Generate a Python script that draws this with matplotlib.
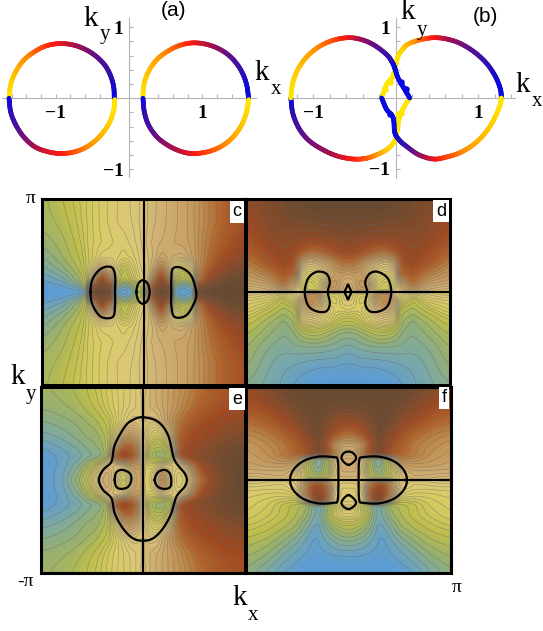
import numpy as np
import matplotlib
matplotlib.use('Agg')
import matplotlib.pyplot as plt
from matplotlib.collections import LineCollection
from matplotlib.colors import LinearSegmentedColormap
from matplotlib.ticker import MultipleLocator

W, H = 543, 631

#   Panel (a): x, y, phase for the four arcs
a_left_up_x = [-1.635, -1.61, -1.54, -1.43, -1.28, -1.12, -0.94, -0.76, -0.60, -0.46, -0.34, -0.26, -0.21, -0.20]
a_left_up_y = [0, .20, .38, .54, .66, .74, .77, .75, .69, .60, .48, .34, .17, 0]
a_left_up_p = [0, .08, .17, .27, .37, .45, .53, .62, .70, .77, .84, .90, .96, 1]
a_left_lo_x = [-1.635, -1.61, -1.54, -1.43, -1.29, -1.12, -.92, -.72, -.55, -.40, -.28, -.21, -.195]
a_left_lo_y = [0, -.2, -.38, -.55, -.68, -.75, -.78, -.75, -.67, -.54, -.37, -.18, -.02]
a_left_lo_p = [1, .93, .85, .75, .65, .57, .5, .4, .3, .2, .11, .03, 0]
a_right_up_x = [.188, .205, .27, .385, .54, .71, .89, 1.09, 1.27, 1.415, 1.53, 1.60, 1.63]
a_right_up_y = [0, .2, .385, .55, .67, .75, .78, .75, .67, .55, .385, .2, 0]
a_right_up_p = [0, .07, .15, .24, .33, .42, .52, .62, .72, .82, .9, .97, 1]
a_right_lo_x = [.19, .21, .27, .385, .54, .71, .88, 1.09, 1.27, 1.415, 1.53, 1.60, 1.63]
a_right_lo_y = [0, -.2, -.385, -.55, -.67, -.75, -.78, -.75, -.67, -.55, -.385, -.2, -.02]
a_right_lo_p = [1, .93, .85, .76, .67, .6, .52, .42, .33, .24, .15, .06, 0]

#   Panel (b)
b_left_up_x = [-1.27, -1.245, -1.174, -1.06, -.91, -.736, -.55, -.38, -.24, -.1, -.04, -.01, .03, .11, .17]
b_left_up_y = [0, .22, .425, .60, .736, .82, .85, .81, .73, .6, .5, .42, .28, .12, 0]
b_left_up_p = [0, .06, .13, .22, .32, .42, .55, .68, .78, .88, .95, 1, 1, 1, 1]
b_left_lo_x = [-1.27, -1.245, -1.17, -1.05, -.88, -.7, -.51, -.36, -.23, -.1, -.01, .02, .04, .09, .17]
b_left_lo_y = [0, -.22, -.43, -.6, -.73, -.82, -.86, -.85, -.8, -.72, -.6, -.45, -.3, -.15, 0]
b_left_lo_p = [1, .92, .84, .76, .68, .6, .5, .4, .28, .12, .02, 0, 0, 0, 0]
b_right_up_x = [-.17, -.11, -.04, -.01, .03, .1, .17, .3, .46, .62, .78, .95, 1.10, 1.21, 1.27, 1.28]
b_right_up_y = [0, .19, .29, .4, .59, .71, .77, .82, .85, .83, .77, .65, .49, .3, .12, 0]
b_right_up_p = [0, 0, 0, 0, .02, .12, .2, .35, .5, .62, .72, .82, .9, .97, 1, 1]
b_right_lo_x = [-.17, -.11, -.03, -.01, .05, .13, .28, .46, .62, .78, .95, 1.10, 1.2, 1.265, 1.28]
b_right_lo_y = [0, -.16, -.28, -.49, -.6, -.68, -.8, -.86, -.83, -.77, -.65, -.47, -.28, -.1, 0]
b_right_lo_p = [1, 1, 1, 1, .95, .88, .7, .55, .43, .34, .22, .15, .08, .02, 0]
b_blue_x = [.07, .13, -.07]
b_blue_y = [.23, .12, -.23]
b_gold_x = [-.07, -.13, .03, .07]
b_gold_y = [.23, .12, -.23, -.21]

tick_major = [-1, 1]
tick_labels = ['\u22121', '1']

#   Phase-like field of panel c, upper half (y >= 0)
c_x = [-3.14, -2.5, -2.0, -1.75, -1.68, -1.3, -.95, -.88, -.6, -.35, -.15, 0, .15, .35, .55, .85, .92, 1.2, 1.55, 1.65, 2.1, 2.6, 3.14]
c_y = [0, .15, .4, .8, 1.2, 1.7, 2.4, 3.14]
c_v = [[0, 0, 0, .02, .98, 1, .95, .03, 0, .05, .35, .08, .55, .9, 1, .95, .05, 0, .03, .97, 1, 1, 1],
       [0, .01, .09, .28, .85, .95, .85, .15, .05, .15, .35, .3, .6, .85, .95, .85, .15, .03, .1, .88, .97, 1, 1],
       [.03, .09, .21, .33, .45, .85, .6, .42, .28, .36, .44, .46, .52, .7, .86, .62, .42, .22, .36, .66, .85, .96, .98],
       [.1, .18, .27, .36, .38, .58, .5, .44, .32, .4, .46, .48, .5, .58, .68, .5, .45, .35, .5, .62, .76, .86, .93],
       [.15, .23, .3, .36, .37, .44, .44, .44, .42, .44, .47, .49, .51, .54, .58, .56, .55, .54, .6, .62, .72, .8, .87],
       [.2, .25, .32, .37, .38, .41, .43, .43, .44, .46, .48, .5, .52, .54, .55, .56, .57, .58, .6, .62, .7, .76, .82],
       [.24, .28, .34, .37, .38, .42, .44, .45, .46, .47, .49, .5, .51, .53, .54, .56, .56, .58, .6, .62, .68, .74, .78],
       [.25, .3, .35, .37, .38, .42, .44, .45, .46, .47, .49, .5, .51, .53, .54, .56, .56, .58, .6, .62, .68, .74, .78]]

#   Panel d, quarter (x >= 0, y > 0), the lower half is 1 - v
d_x = [0, .15, .35, .6, .9, 1.2, 1.45, 1.6, 1.7, 2.0, 2.5, 3.14]
d_y = [.03, .3, .6, 1, 1.4, 1.9, 2.5, 3.14]
d_v = [[.5, .55, .6, .6, .35, .35, .5, .5, .55, .56, .55, .55],
       [.55, .55, .62, .62, .4, .35, .42, .55, .6, .7, .59, .57],
       [.58, .6, .6, .55, .45, .42, .48, .68, .72, .75, .67, .6],
       [.7, .7, .66, .6, .55, .52, .6, .72, .78, .82, .76, .67],
       [.82, .82, .8, .76, .72, .72, .76, .8, .82, .85, .8, .73],
       [.9, .9, .88, .87, .86, .86, .86, .86, .87, .88, .85, .77],
       [.97, .97, .96, .96, .96, .95, .94, .93, .92, .92, .88, .8],
       [1, 1, 1, 1, 1, 1, .98, .98, .96, .93, .9, .85]]

#   Panel e, quarter (x > 0, y >= 0), the left half is 1 - v
e_x = [.03, .2, .4, .6, .85, 1.1, 1.3, 1.5, 1.7, 2.0, 2.5, 3.14]
e_y = [0, .25, .5, .75, .85, 1.1, 1.5, 2, 2.5, 3.14]
e_v = [[.4, .42, .52, .66, .52, .42, .46, .55, .66, .78, .93, 1],
       [.42, .42, .5, .62, .5, .44, .48, .58, .7, .82, .94, 1],
       [.45, .38, .4, .48, .5, .48, .55, .66, .76, .86, .95, 1],
       [.5, .33, .25, .22, .3, .62, .78, .82, .85, .9, .95, 1],
       [.5, .3, .2, .18, .25, .75, .82, .85, .86, .9, .95, 1],
       [.5, .34, .26, .26, .42, .72, .8, .82, .84, .88, .92, .97],
       [.5, .42, .38, .42, .55, .72, .76, .8, .8, .83, .87, .9],
       [.52, .5, .5, .55, .62, .68, .72, .75, .77, .8, .83, .85],
       [.52, .53, .55, .57, .6, .63, .66, .69, .71, .75, .78, .8],
       [.52, .53, .55, .57, .6, .62, .65, .67, .7, .72, .76, .78]]

#   Panel f, quarter (x >= 0, y > 0), the lower half is 1 - v
f_x = [0, .15, .25, .45, .65, .85, .95, 1.1, 1.35, 1.6, 2.0, 2.5, 3.14]
f_y = [.03, .25, .5, .72, .86, 1.2, 1.6, 2.1, 2.6, 3.14]
f_v = [[.52, .52, .52, .48, .38, .3, .3, .3, .4, .5, .54, .54, .54],
       [.55, .55, .55, .48, .3, .2, .18, .22, .38, .52, .56, .56, .56],
       [.56, .56, .55, .5, .28, .14, .12, .2, .38, .58, .6, .6, .58],
       [.56, .55, .56, .52, .32, .12, .08, .3, .52, .66, .65, .62, .6],
       [.52, .52, .58, .68, .8, .9, .92, .85, .75, .72, .68, .63, .6],
       [.58, .58, .6, .64, .76, .88, .9, .87, .78, .74, .68, .64, .61],
       [.72, .72, .74, .78, .84, .92, .94, .92, .86, .78, .73, .68, .65],
       [.86, .86, .87, .89, .92, .95, .97, .97, .93, .88, .82, .75, .72],
       [.97, .97, .97, .97, .98, .98, .98, .98, .97, .95, .9, .82, .77],
       [1, 1, 1, 1, 1, 1, 1, 1, 1, .99, .97, .9, .82]]

#   Black zero curves
c_loop1_x = [-1.64, -1.57, -1.31, -1.0, -.88, -.88, -.88, -.95, -1.31, -1.57]
c_loop1_y = [0, .45, .79, .84, .56, 0, -.45, -.84, -.84, -.45]
c_loop2_x = [1.63, 1.47, 1.16, .91, .86, .86, .86, .96, 1.32, 1.58]
c_loop2_y = [0, .56, .82, .79, .45, 0, -.45, -.84, -.79, -.34]
c_loop3_x = [-.22, -.16, -.02, .13, .19, .13, -.02, -.16]
c_loop3_y = [0, .28, .4, .28, 0, -.28, -.4, -.28]
d_loop1_x = [-1.33, -1.23, -.97, -.67, -.56, -.62, -.56, -.67, -.97, -1.23]
d_loop1_y = [0, .45, .68, .62, .34, 0, -.39, -.65, -.65, -.45]
d_loop2_x = [1.33, 1.23, .92, .67, .53, .59, .53, .67, .97, 1.23]
d_loop2_y = [0, .45, .68, .62, .34, 0, -.39, -.65, -.65, -.45]
d_loop3_x = [-.1, -.05, 0, .05, .1, .05, 0, -.05]
d_loop3_y = [0, .14, .25, .14, 0, -.14, -.25, -.14]
e_loop1_x = [0, .46, .77, .92, 1.03, 1.28, 1.35, 1.28, 1.03, .87, .62, .31, 0, -.31, -.62, -.87, -.97, -1.23, -1.36, -1.23, -.97, -.87, -.56, -.31]
e_loop1_y = [2.12, 1.97, 1.52, .84, .56, .23, 0, -.23, -.56, -1.13, -1.63, -1.97, -2.05, -1.97, -1.63, -1.13, -.62, -.34, 0, .34, .62, 1.18, 1.8, 2.03]
e_loop2_x = [-.87, -.82, -.64, -.41, -.36, -.46, -.67, -.82]
e_loop2_y = [0, .26, .34, .23, 0, -.23, -.3, -.23]
e_loop3_x = [.36, .46, .67, .82, .87, .84, .67, .46]
e_loop3_y = [0, .26, .34, .23, 0, -.23, -.3, -.23]
f_loop1_x = [-1.79, -1.69, -1.38, -.92, -.46, -.33, -.31, -.33, -.46, -.92, -1.38, -1.69]
f_loop1_y = [0, .34, .64, .79, .77, .68, 0, -.68, -.77, -.79, -.64, -.34]
f_loop2_x = [1.79, 1.69, 1.38, .92, .46, .33, .31, .33, .46, .92, 1.38, 1.69]
f_loop2_y = [0, .34, .64, .79, .77, .68, 0, -.68, -.77, -.79, -.64, -.34]
f_loop3_x = [0, -.21, -.15, 0, .15, .23]
f_loop3_y = [.51, .71, .9, .96, .9, .71]
f_loop4_x = [0, -.21, -.15, 0, .15, .23]
f_loop4_y = [-.51, -.73, -.9, -.98, -.9, -.73]

ring_cmap = LinearSegmentedColormap.from_list('ring', [(0, '#ffe600'), (.1, '#ffd000'), (.3, '#ff8c00'), (.5, '#ff1a10'),
                                                       (.65, '#a01050'), (.8, '#5a1090'), (.92, '#3010b0'), (1, '#0808e0')])
field_cmap = LinearSegmentedColormap.from_list('field', [(0, '#5a9bd8'), (.1, '#7aa8a8'), (.2, '#97b070'), (.3, '#bcbd4c'),
                                                         (.4, '#d8cc64'), (.47, '#dcc878'), (.55, '#cfae72'), (.65, '#bd8a4c'),
                                                         (.72, '#b0642c'), (.8, '#a04a22'), (.9, '#7f4c2c'), (1, '#644a32')])


#   Axes from a box given in image pixels
def px_axes(fig, x0, y0, x1, y1):
    return fig.add_axes([x0/W, 1 - y1/H, (x1 - x0)/W, (y1 - y0)/H])


#   Rounds a polyline with Catmull-Rom pieces, used for drawing only
def rounded(pts, closed=False, n=12):
    pts = np.asarray(pts, dtype=float)
    if closed:
        p = np.vstack([pts[-1], pts, pts[0], pts[1]])
    else:
        p = np.vstack([2*pts[0] - pts[1], pts, 2*pts[-1] - pts[-2]])
    t = np.linspace(0, 1, n, endpoint=False)[:, None]
    out = []
    for i in range(1, len(p) - 2):
        a, b, c, d = p[i-1], p[i], p[i+1], p[i+2]
        out.append(.5*(2*b + (c - a)*t + (2*a - 5*b + 4*c - d)*t**2 + (3*b - a - 3*c + d)*t**3))
    out.append(p[-2][None, :])
    return np.vstack(out)


def ring(ax, xs, ys, ps):
    path = rounded(np.column_stack([xs, ys, ps]))
    seg = np.stack([path[:-1, :2], path[1:, :2]], axis=1)
    lc = LineCollection(seg, cmap=ring_cmap, linewidths=3.4, capstyle='round', clip_on=False, zorder=3)
    lc.set_array(np.clip(path[:-1, 2], 0, 1))
    lc.set_clim(0, 1)
    ax.add_collection(lc)


def small_axes(ax, xlim, ylim):
    ax.set_xlim(xlim)
    ax.set_ylim(ylim)
    ax.patch.set_alpha(0)
    for s in ['top', 'right']:
        ax.spines[s].set_visible(False)
    for s in ['left', 'bottom']:
        ax.spines[s].set_position('zero')
        ax.spines[s].set_color('#b4b4b4')
    ax.set_xticks(tick_major, tick_labels)
    ax.set_yticks(tick_major, tick_labels)
    ax.xaxis.set_minor_locator(MultipleLocator(.2))
    ax.yaxis.set_minor_locator(MultipleLocator(.2))
    ax.tick_params(which='both', color='#b4b4b4', direction='in', length=3, width=.8)
    ax.tick_params(axis='x', pad=5)
    ax.tick_params(axis='y', pad=4)
    for lab in ax.get_xticklabels() + ax.get_yticklabels():
        lab.set_fontfamily('Liberation Serif')
        lab.set_fontweight('bold')
        lab.set_fontsize(14)


#   Copies a half table across zero, flip gives 1 - v on the copy
def unfold(coord, vals, axis, flip):
    coord = np.asarray(coord, dtype=float)
    keep = 1 if coord[0] == 0 else 0
    taken = np.take(vals, range(keep, len(coord)), axis=axis)
    mirrored = np.flip(taken, axis=axis)
    if flip:
        mirrored = 1 - mirrored
    return np.concatenate([-coord[keep:][::-1], coord]), np.concatenate([mirrored, vals], axis=axis)


def box_smooth(z, w):
    kernel = np.ones(2*w + 1)/(2*w + 1)
    for axis in [0, 1]:
        pad = [(w, w) if i == axis else (0, 0) for i in [0, 1]]
        z = np.apply_along_axis(lambda r: np.convolve(r, kernel, mode='valid'), axis, np.pad(z, pad, mode='edge'))
    return z


#   Tables are coarse, so the outer part gets a wider blur than the middle
def field(ax, xs, ys, vs):
    fx = np.linspace(-3.14, 3.14, 420)
    fy = np.linspace(-3.14, 3.14, 400)
    z = np.array([np.interp(fx, xs, row) for row in vs])
    z = np.array([np.interp(fy, ys, col) for col in z.T]).T
    near = box_smooth(box_smooth(z, 3), 3)
    far = box_smooth(box_smooth(z, 14), 14)
    gx, gy = np.meshgrid(fx, fy)
    m = np.clip((np.hypot(gx, gy) - 2.2)/.7, 0, 1)
    z = near*(1 - m) + far*m
    ax.imshow(z, extent=[-3.14, 3.14, -3.14, 3.14], origin='lower', aspect='auto', cmap=field_cmap, vmin=0, vmax=1)
    levels = np.concatenate([np.linspace(.04, .3, 8), np.linspace(.33, .67, 18), np.linspace(.7, .96, 8)])
    ax.contour(fx, fy, z, levels=levels, colors='#666666', linewidths=.4, alpha=.6)
    ax.set_xlim(-3.14, 3.14)
    ax.set_ylim(-3.14, 3.14)
    ax.set_xticks([])
    ax.set_yticks([])
    for s in ax.spines.values():
        s.set_linewidth(2.2)


def loop(ax, xs, ys):
    path = rounded(np.column_stack([xs, ys]), closed=True)
    ax.plot(path[:, 0], path[:, 1], color='black', lw=1.6, zorder=4)


def ftext(fig, x, y, s, size, family='Liberation Serif', **kw):
    fig.text(x/W, 1 - y/H, s, fontsize=size, family=family, ha='center', va='center', **kw)


fig = plt.figure(figsize=(W/100, H/100), dpi=100)

#   Rings
ax_a = px_axes(fig, 2, 18, 256, 177)
small_axes(ax_a, (-1.73, 1.73), (-1.11, 1.13))
ring(ax_a, a_left_up_x, a_left_up_y, a_left_up_p)
ring(ax_a, a_left_lo_x, a_left_lo_y, a_left_lo_p)
ring(ax_a, a_right_up_x, a_right_up_y, a_right_up_p)
ring(ax_a, a_right_lo_x, a_right_lo_y, a_right_lo_p)

ax_b = px_axes(fig, 290, 18, 515, 178)
small_axes(ax_b, (-1.28, 1.446), (-1.127, 1.127))
ring(ax_b, b_left_lo_x, b_left_lo_y, b_left_lo_p)
ring(ax_b, b_right_up_x, b_right_up_y, b_right_up_p)
ax_b.scatter(b_gold_x, b_gold_y, s=22, color='#ffe600', zorder=3, linewidths=0)
ring(ax_b, b_left_up_x, b_left_up_y, b_left_up_p)
ring(ax_b, b_right_lo_x, b_right_lo_y, b_right_lo_p)
ax_b.scatter(b_blue_x, b_blue_y, s=22, color='#0808e0', zorder=4, linewidths=0)

#   Colour panels
ax_c = px_axes(fig, 42, 199, 245, 385)
ys, vs = unfold(c_y, np.array(c_v), 0, False)
field(ax_c, c_x, ys, vs)
ax_c.axvline(0, color='black', lw=1.5)
loop(ax_c, c_loop1_x, c_loop1_y)
loop(ax_c, c_loop2_x, c_loop2_y)
loop(ax_c, c_loop3_x, c_loop3_y)

ax_d = px_axes(fig, 246, 199, 450, 385)
xs, vs = unfold(d_x, np.array(d_v), 1, False)
ys, vs = unfold(d_y, vs, 0, True)
field(ax_d, xs, ys, vs)
ax_d.axhline(0, color='black', lw=1.5)
loop(ax_d, d_loop1_x, d_loop1_y)
loop(ax_d, d_loop2_x, d_loop2_y)
loop(ax_d, d_loop3_x, d_loop3_y)

ax_e = px_axes(fig, 41, 387, 245, 573)
ys, vs = unfold(e_y, np.array(e_v), 0, False)
xs, vs = unfold(e_x, vs, 1, True)
field(ax_e, xs, ys, vs)
ax_e.axvline(0, color='black', lw=1.5)
loop(ax_e, e_loop1_x, e_loop1_y)
loop(ax_e, e_loop2_x, e_loop2_y)
loop(ax_e, e_loop3_x, e_loop3_y)

ax_f = px_axes(fig, 246, 387, 451, 573)
xs, vs = unfold(f_x, np.array(f_v), 1, False)
ys, vs = unfold(f_y, vs, 0, True)
field(ax_f, xs, ys, vs)
ax_f.axhline(0, color='black', lw=1.5)
loop(ax_f, f_loop1_x, f_loop1_y)
loop(ax_f, f_loop2_x, f_loop2_y)
loop(ax_f, f_loop3_x, f_loop3_y)
loop(ax_f, f_loop4_x, f_loop4_y)

#   Labels
ftext(fig, 174, 10, '(a)', 15, 'Liberation Sans')
ftext(fig, 485, 16, '(b)', 15, 'Liberation Sans')
ftext(fig, 91, 19, 'k', 21)
ftext(fig, 105, 35, 'y', 15)
ftext(fig, 262, 73, 'k', 21)
ftext(fig, 276, 90, 'x', 15)
ftext(fig, 408, 12, 'k', 21)
ftext(fig, 422, 30, 'y', 15)
ftext(fig, 523, 85, 'k', 21)
ftext(fig, 537, 101, 'x', 15)
ftext(fig, 18, 377, 'k', 21)
ftext(fig, 31, 394, 'y', 15)
ftext(fig, 240, 598, 'k', 21)
ftext(fig, 253, 615, 'x', 15)
ftext(fig, 31, 199, '\u03c0', 14)
ftext(fig, 26, 582, '-\u03c0', 14)
ftext(fig, 457, 587, '\u03c0', 14)
box = dict(facecolor='white', edgecolor='none', pad=2)
ftext(fig, 237, 212, 'c', 13, 'Liberation Sans', bbox=box, zorder=6)
ftext(fig, 441, 211, 'd', 13, 'Liberation Sans', bbox=box, zorder=6)
ftext(fig, 237, 399, 'e', 13, 'Liberation Sans', bbox=box, zorder=6)
ftext(fig, 444, 398, 'f', 13, 'Liberation Sans', bbox=box, zorder=6)

fig.savefig('out.png', dpi=100)
